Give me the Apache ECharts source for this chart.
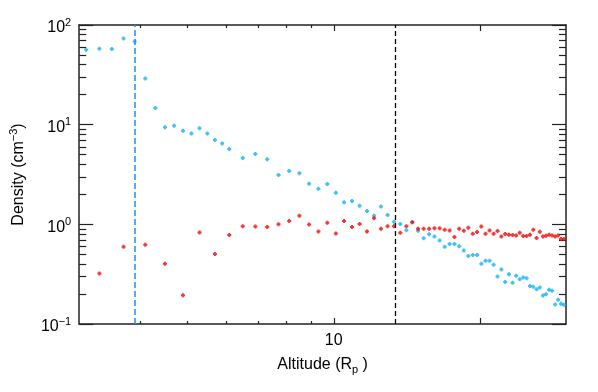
<!DOCTYPE html>
<html>
<head>
<meta charset="utf-8">
<script src="https://cdn.jsdelivr.net/npm/echarts@6/dist/echarts.min.js"></script>
<style>
  html, body { margin: 0; padding: 0; background: #fff; }
  #chart { width: 598px; height: 392px; }
</style>
</head>
<body>
<div id="chart"></div>
<script>
// ===== 数据 =====
// cyan 点: 高度 (R_p) / 密度 (cm^-3)
const cyanAlt = [3.1, 3.3, 3.5, 3.7, 3.9, 4.1, 4.3, 4.5, 4.7, 4.9, 5.1, 5.3, 5.5, 5.7, 5.9, 6.1,
  6.5, 6.9, 7.3, 7.7, 8.1, 8.5, 8.9, 9.3, 9.7, 10.1, 10.5, 10.9, 11.3, 11.7, 12.1, 12.5, 12.9,
  13.3, 13.7, 14.1, 14.5, 14.9, 15.3, 15.7, 16.1, 16.5, 16.9, 17.3, 17.7, 18.1, 18.5, 18.9,
  19.3, 19.7, 20.1, 20.5, 20.9, 21.3, 21.7, 22.1, 22.5, 22.9, 23.3, 23.7, 24.1, 24.5, 24.9,
  25.3, 25.7, 26.1, 26.5, 26.9, 27.3, 27.7, 28.1, 28.5, 28.9, 29.3, 29.7];
const cyanDens = [56.5, 57.8, 57.3, 73.3, 68.4, 29.0, 14.7, 9.44, 9.73, 8.67, 8.17, 9.23, 8.17, 7.00, 6.49, 5.69,
  4.62, 5.07, 4.49, 3.13, 3.43, 3.25, 2.56, 2.28, 2.54, 2.08, 1.67, 1.71, 1.54, 1.36, 1.22, 1.51, 1.24,
  1.06, 1.01, 0.871, 1.05, 0.861, 0.724, 0.794, 0.755, 0.689, 0.596, 0.634, 0.634, 0.603, 0.547, 0.482,
  0.492, 0.492, 0.403, 0.430, 0.430, 0.392, 0.299, 0.353, 0.264, 0.315, 0.260, 0.305, 0.281, 0.292, 0.287,
  0.241, 0.236, 0.223, 0.232, 0.193, 0.199, 0.220, 0.216, 0.157, 0.175, 0.160, 0.156];

// red 点
const redAlt = [3.3, 3.7, 4.1, 4.5, 4.9, 5.3, 5.7, 6.1, 6.5, 6.9, 7.3, 7.7, 8.1, 8.5, 8.9, 9.3, 9.7,
  10.1, 10.5, 10.9, 11.3, 11.7, 12.1, 12.5, 12.9, 13.3, 13.7, 14.1, 14.5, 14.9, 15.3, 15.7, 16.1,
  16.5, 16.9, 17.3, 17.7, 18.1, 18.5, 18.9, 19.3, 19.7, 20.1, 20.5, 20.9, 21.3, 21.7, 22.1, 22.5,
  22.9, 23.3, 23.7, 24.1, 24.5, 24.9, 25.3, 25.7, 26.1, 26.5, 26.9, 27.3, 27.7, 28.1, 28.5, 28.9,
  29.3, 29.7];
const redDens = [0.322, 0.596, 0.624, 0.403, 0.194, 0.828, 0.504, 0.780, 0.959, 0.950, 0.938, 1.00, 1.08, 1.22, 0.995, 0.847, 1.04,
  0.809, 1.08, 0.938, 1.01, 0.847, 1.15, 0.902, 0.955, 0.959, 0.822, 0.955, 1.05, 0.902, 0.902, 0.902, 0.916,
  0.912, 0.881, 0.865, 0.745, 0.902, 0.861, 0.923, 0.804, 0.836, 0.950, 0.804, 0.867, 0.804, 0.855, 0.755, 0.798,
  0.785, 0.780, 0.773, 0.822, 0.762, 0.762, 0.785, 0.881, 0.728, 0.841, 0.755, 0.767, 0.785, 0.773, 0.755, 0.773,
  0.711, 0.711];

// 竖虚线位置
const blueLineAlt = 3.9;
const blackLineAlt = 13.4;

// 刻度
const xMajorTicks = [10, 20];
const xMinorTicks = [4, 5, 6, 7, 8, 9];
const xLabels = [10];
const yMajorTicks = [0.1, 1, 10, 100];
const yMinorTicks = [0.2, 0.3, 0.4, 0.5, 0.6, 0.7, 0.8, 0.9, 2, 3, 4, 5, 6, 7, 8, 9, 20, 30, 40, 50, 60, 70, 80, 90];

// ===== 样式 =====
const FONT = "'Liberation Sans', Arial, Helvetica, sans-serif";
const AXIS_COLOR = "#222";
const DOT = "path://M1,0H3V1H4V3H3V4H1V3H0V1H1Z";

function xAx(pos, ticks, len, main) {
  const labelled = main && pos === "bottom";
  return {
    type: "log", logBase: 10, min: 3, max: 30, position: pos,
    axisLine: { show: main, onZero: false, lineStyle: { color: AXIS_COLOR, width: 1.5 } },
    axisTick: { inside: true, length: len, customValues: ticks, lineStyle: { color: AXIS_COLOR, width: 1.2 } },
    axisLabel: labelled
      ? { customValues: xLabels, margin: 9, fontSize: 16, color: "#000", fontFamily: FONT, formatter: v => String(Math.round(v)) }
      : { show: false },
    splitLine: { show: false },
    name: labelled ? "Altitude (R{sub|p} )" : "",
    nameLocation: "middle",
    nameGap: 18,
    nameTextStyle: {
      fontSize: 16, lineHeight: 22, color: "#000", fontFamily: FONT,
      rich: { sub: { fontSize: 11, lineHeight: 11, fontFamily: FONT, color: "#000", verticalAlign: "bottom" } },
    },
  };
}

function yAx(pos, ticks, len, main) {
  const labelled = main && pos === "left";
  return {
    type: "log", logBase: 10, min: 0.1, max: 100, position: pos,
    axisLine: { show: main, onZero: false, lineStyle: { color: AXIS_COLOR, width: 1.5 } },
    axisTick: { inside: true, length: len, customValues: ticks, lineStyle: { color: AXIS_COLOR, width: 1.2 } },
    axisLabel: labelled
      ? {
          customValues: yMajorTicks, margin: 8, color: "#000", fontFamily: FONT, padding: [6, 0, 0, 0],
          formatter: v => {
            const e = Math.round(Math.log10(v));
            return "{b|10}{s|" + (e < 0 ? "\u2212" + (-e) : String(e)) + "}";
          },
          rich: {
            b: { fontSize: 16, lineHeight: 22, fontFamily: FONT, color: "#000" },
            s: { fontSize: 11, lineHeight: 11, fontFamily: FONT, color: "#000", verticalAlign: "top" },
          },
        }
      : { show: false },
    splitLine: { show: false },
    name: labelled ? "Density (cm{sup|\u22123})" : "",
    nameLocation: "middle",
    nameRotate: 90,
    nameGap: 43,
    nameTextStyle: {
      fontSize: 16, lineHeight: 22, color: "#000", fontFamily: FONT,
      rich: { sup: { fontSize: 11, lineHeight: 11, fontFamily: FONT, color: "#000", verticalAlign: "top" } },
    },
  };
}

const chart = echarts.init(document.getElementById("chart"), null, { renderer: "canvas" });

const option = {
  animation: false,
  backgroundColor: "#fff",
  grid: { left: 77, right: 32, top: 25, bottom: 68, containLabel: false },
  xAxis: [
    xAx("bottom", xMajorTicks, 6, true),
    xAx("bottom", xMinorTicks, 3, false),
    xAx("top", xMajorTicks, 6, true),
    xAx("top", xMinorTicks, 3, false),
  ],
  yAxis: [
    yAx("left", yMajorTicks, 14, true),
    yAx("left", yMinorTicks, 7, false),
    yAx("right", yMajorTicks, 14, true),
    yAx("right", yMinorTicks, 7, false),
  ],
  series: [
    {
      name: "lines", type: "scatter", data: [], xAxisIndex: 0, yAxisIndex: 0,
      markLine: {
        silent: true, symbol: "none", label: { show: false },
        data: [
          { xAxis: blueLineAlt, lineStyle: { color: "#1E8FFF", type: [6, 3], width: 1.5 } },
          { xAxis: blackLineAlt, lineStyle: { color: "#000", type: [5, 3], width: 1.3 } },
        ],
      },
    },
    {
      name: "cyan", type: "scatter", xAxisIndex: 0, yAxisIndex: 0,
      symbol: DOT, symbolSize: 4,
      itemStyle: { color: "#12B2F2" },
      data: cyanAlt.map((a, i) => [a, cyanDens[i]]),
    },
    {
      name: "red", type: "scatter", xAxisIndex: 0, yAxisIndex: 0,
      symbol: DOT, symbolSize: 4,
      itemStyle: { color: "#F00808" },
      data: redAlt.map((a, i) => [a, redDens[i]]),
    },
  ],
};
chart.setOption(option);
</script>
</body>
</html>
